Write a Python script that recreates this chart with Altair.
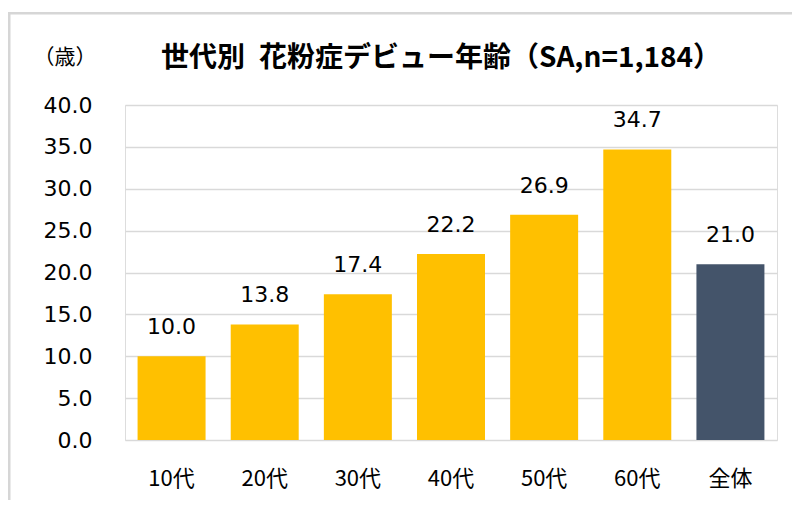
import altair as alt
import pandas as pd

categories = ["10代", "20代", "30代", "40代", "50代", "60代", "全体"]
values = [10.0, 13.8, 17.4, 22.2, 26.9, 34.7, 21.0]
colors = ["#FFC000", "#FFC000", "#FFC000", "#FFC000", "#FFC000", "#FFC000", "#44546A"]
y_ticks = [0, 5, 10, 15, 20, 25, 30, 35, 40]
title_text = "世代別\u2002花粉症デビュー年齢（SA,n=1,184）"
unit_text = "（歳）"

df = pd.DataFrame({"cat": categories, "val": values, "color": colors})

W, H = 652, 335

x_enc = alt.X("cat:N", sort=categories, title=None,
              scale=alt.Scale(paddingInner=0.27, paddingOuter=0.135),
              axis=alt.Axis(labelAngle=0, labelFont="Noto Sans CJK JP", labelFontSize=22,
                            labelColor="#000000", labelPadding=28, ticks=False,
                            domain=False, grid=False))
y_enc = alt.Y("val:Q", title=None,
              scale=alt.Scale(domain=[0, 40], nice=False),
              axis=alt.Axis(values=y_ticks, format=".1f", labelFont="DejaVu Sans",
                            labelFontSize=22, labelColor="#000000", labelPadding=33,
                            ticks=False, domain=False, grid=True, gridColor="#D9D9D9",
                            gridWidth=1.5))

bars = alt.Chart(df).mark_bar().encode(
    x=x_enc, y=y_enc, color=alt.Color("color:N", scale=None)
)

labels = alt.Chart(df).mark_text(
    font="DejaVu Sans", fontSize=22, baseline="bottom", dy=-17, color="#000000"
).encode(
    x=alt.X("cat:N", sort=categories),
    y="val:Q",
    text=alt.Text("val:Q", format=".1f"),
)

title = alt.Chart(pd.DataFrame({"t": [title_text]})).mark_text(
    font="Noto Sans CJK JP", fontSize=28, fontWeight="bold", color="#000000",
    align="center", baseline="middle"
).encode(x=alt.value(316), y=alt.value(-46), text="t:N")

unit = alt.Chart(pd.DataFrame({"t": [unit_text]})).mark_text(
    font="Noto Sans CJK JP", fontSize=21, color="#000000",
    align="center", baseline="middle"
).encode(x=alt.value(-60), y=alt.value(-47), text="t:N")

border_top = alt.Chart(pd.DataFrame({"a": [0]})).mark_rect(
    color="#D6D6D6"
).encode(x=alt.value(-117), x2=alt.value(667), y=alt.value(-93), y2=alt.value(-90.5))

border_left = alt.Chart(pd.DataFrame({"a": [0]})).mark_rect(
    color="#D6D6D6"
).encode(x=alt.value(-117), x2=alt.value(-114.5), y=alt.value(-93), y2=alt.value(500))

chart = alt.layer(border_top, border_left, bars, labels, title, unit).properties(
    width=W, height=H,
    padding={"left": 117, "top": 97, "right": 15, "bottom": 60},
    autosize=alt.AutoSizeParams(type="none"),
).configure_view(stroke=None).configure(background="#FFFFFF")

chart.save("out.html", embed_options={"renderer": "svg", "actions": False})
